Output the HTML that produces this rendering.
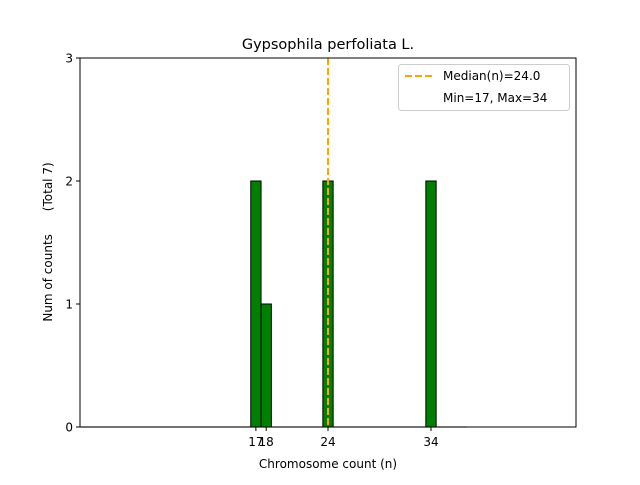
<!DOCTYPE html>
<html><head><meta charset="utf-8"><style>
body{margin:0;background:#fff;font-family:"Liberation Sans","DejaVu Sans",sans-serif;}
</style></head><body>
<svg id="c" width="640" height="480" xmlns="http://www.w3.org/2000/svg" font-family="DejaVu Sans, Liberation Sans, sans-serif">
<rect width="640" height="480" fill="#fff"/>
<text x="328" y="49" font-size="14.5" text-anchor="middle">Gypsophila perfoliata L.</text>
<text x="328" y="468" font-size="12" text-anchor="middle">Chromosome count (n)</text>
<text transform="translate(52,242) rotate(-90)" font-size="12" text-anchor="middle" style="white-space:pre" xml:space="preserve">Num of counts      (Total 7)</text>
<g id="marks"></g>
<rect x="80" y="58" width="496" height="369" fill="none" stroke="#000" stroke-width="1"/>
<g>
<rect x="398.5" y="64.5" width="171" height="46" rx="3" fill="#fff" stroke="#ccc"/>
<line x1="405" y1="76" x2="433" y2="76" stroke="orange" stroke-width="2" stroke-dasharray="7,3"/>
<text x="443" y="80" font-size="12">Median(n)=24.0</text>
<text x="443" y="102" font-size="12">Min=17, Max=34</text>
</g>
</svg>
<script>
const values=[17,18,24,34];
const counts=[2,1,2,2];
const yTicks=[0,1,2,3];
const xTicks=[17,18,24,34];
const median=24.0;
const binStart=0, binEnd=37.5;
const x=v=>80.8+10.3*v;
const y=v=>427-123*v;
const ns="http://www.w3.org/2000/svg";
const g=document.getElementById('marks');
function mk(t,a){const e=document.createElementNS(ns,t);for(const k in a)e.setAttribute(k,a[k]);g.appendChild(e);return e;}
let b=mk('line',{x1:x(binStart),y1:y(0),x2:x(binEnd),y2:y(0),stroke:'#999','stroke-width':1.2});


values.forEach((v,i)=>{
 const r=mk('rect',{x:x(v-0.5),y:y(counts[i]),width:x(v+0.5)-x(v-0.5),height:y(0)-y(counts[i]),fill:'green',stroke:'#000','stroke-width':1});
 
 
});
let m=mk('line',{x1:x(median),y1:58,x2:x(median),y2:427,stroke:'orange','stroke-width':2,'stroke-dasharray':'7,3'});


yTicks.forEach(t=>{
 const l=mk('line',{x1:76,y1:y(t),x2:80,y2:y(t),stroke:'#000'});
 
 
 const tx=mk('text',{x:73,y:y(t)+4.5,'font-size':12,'text-anchor':'end'});tx.textContent=t;
 
 
});
xTicks.forEach(t=>{
 const l=mk('line',{x1:x(t),y1:427,x2:x(t),y2:431,stroke:'#000'});
 
 
 const tx=mk('text',{x:x(t),y:446,'font-size':12,'text-anchor':'middle'});tx.textContent=t;
 
 
});
</script>
</body></html>
